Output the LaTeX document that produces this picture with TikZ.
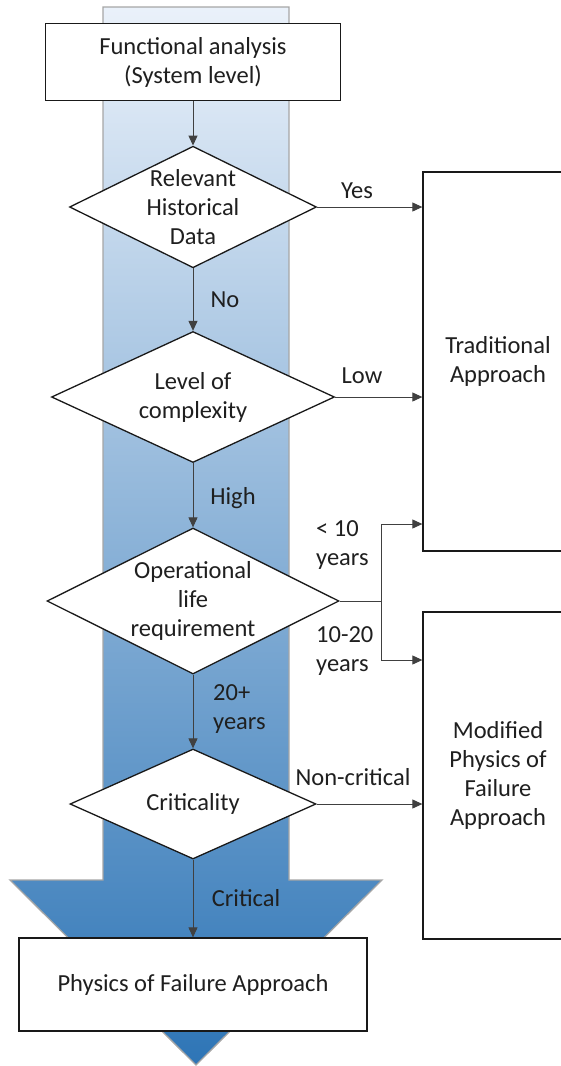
\documentclass[tikz,border=0pt]{standalone}
\usepackage{fontspec}
\setmainfont{Carlito}
\usetikzlibrary{shapes.geometric,arrows.meta}

\begin{document}
\begin{tikzpicture}[x=1pt, y=-1pt, >={Triangle[length=10pt,width=9pt]},
		every node/.style={font=\fontsize{24.5}{29}\selectfont, text=black!88},
		box/.style={draw=black!90, line width=1.3pt, fill=white, align=center, inner sep=0pt},
		decision/.style={diamond, shape aspect=2, draw=black!90, line width=1.3pt, fill=white, align=center, inner sep=0pt},
		flow/.style={->, line width=1pt, draw=black!75},
		lbl/.style={align=left, inner sep=0pt}]
	\useasboundingbox (0,0) rectangle (561,1066);
	
	% ==================== 背景：渐变大箭头 ====================
	\shade[top color={rgb,255:red,234;green,241;blue,250}, middle color={rgb,255:red,157;green,195;blue,230},
		bottom color={rgb,255:red,46;green,117;blue,182}, draw=black!35, line width=1.3pt]
		(103,7) -- (289,7) -- (289,880) -- (382,880) -- (196,1065) -- (10,880) -- (103,880) -- cycle;
	
	% ==================== 主流程 ====================
	\node[box, minimum width=295pt, minimum height=77pt] (func) at (193,62) {Functional analysis\\(System level)};
	\node[decision, minimum width=247pt, minimum height=120pt] (hist) at (193,207) {Relevant\\Historical\\Data};
	\node[decision, minimum width=283pt, minimum height=131pt] (cplx) at (193,397) {Level of\\complexity};
	\node[decision, minimum width=292pt, minimum height=146pt] (oplife) at (193,601) {Operational\\life\\requirement};
	\node[decision, minimum width=246pt, minimum height=110pt] (crit) at (193,804) {Criticality};
	\node[box, minimum width=348pt, minimum height=93pt] (pof) at (193,984.5) {Physics of Failure Approach};
	
	% 右侧结果框 (右边超出画面)
	\node[box, minimum width=150pt, minimum height=379pt] (trad) at (498,361.5) {Traditional\\Approach};
	\node[box, minimum width=150pt, minimum height=327pt] (mod) at (498,775.5) {Modified\\Physics of\\Failure\\Approach};
	
	% ==================== 连线 ====================
	\draw[flow] (func) -- (hist);
	\draw[flow] (hist) -- (cplx);
	\draw[flow] (cplx) -- (oplife);
	\draw[flow] (oplife) -- (crit);
	\draw[flow] (crit) -- (pof);
	
	\draw[flow] (hist) -- (hist -| trad.west);
	\draw[flow] (cplx) -- (cplx -| trad.west);
	\draw[flow] (crit) -- (crit -| mod.west);
	
	% 分叉：< 10 years / 10-20 years
	\coordinate (split) at (381,601);
	\coordinate (lt10) at (trad.west |- 0,524);
	\coordinate (mid20) at (mod.west |- 0,660);
	\draw[flow] (oplife.east) -- (split) |- (lt10);
	\draw[flow] (split) |- (mid20);
	
	% ==================== 标签 ====================
	\node (yes) at (357,191) {Yes};
	\node (no) at (225,300) {No};
	\node (low) at (362,376) {Low};
	\node (high) at (233,498) {High};
	\node[lbl, anchor=west] (short) at (316,545) {< 10\\years};
	\node[lbl, anchor=west] (medium) at (316,651) {10-20\\years};
	\node[lbl, anchor=west] (long) at (213,709.5) {20+\\years};
	\node (noncrit) at (353,777) {Non-critical};
	\node (critical) at (246,898) {Critical};
\end{tikzpicture}
\end{document}
